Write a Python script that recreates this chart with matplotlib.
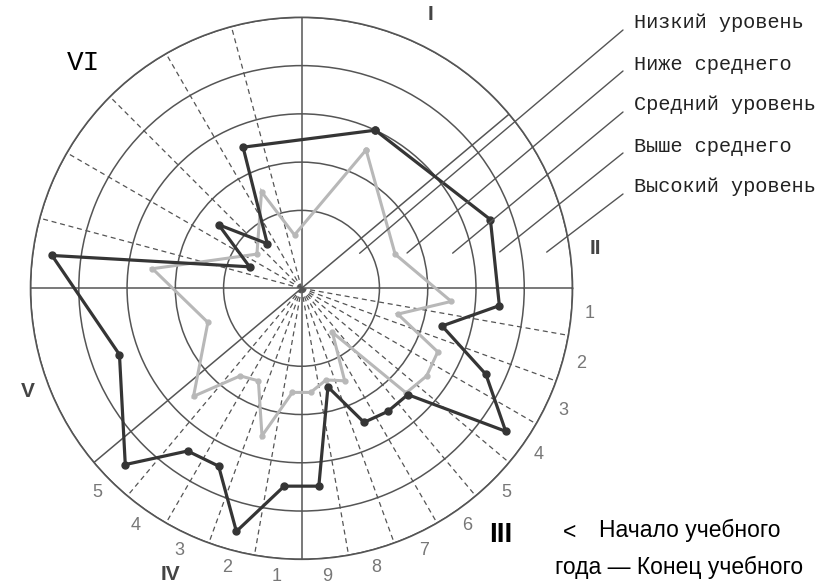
import numpy as np
import matplotlib.pyplot as plt
from matplotlib.patches import ConnectionPatch

# сектора диаграммы: название, начальный и конечный угол (град.), число делений
sector_names = ['I', 'II', 'III', 'IV', 'V', 'VI']
sector_start = [90, 40, 0, -90, -140, 180]
sector_end = [40, 0, -90, -140, -180, 90]
sector_parts = [1, 1, 9, 5, 1, 6]

# уровни (0.5 - низкий ... 4.5 - высокий), порядок: I, II, III-1..9, IV-1..5, V, VI-1..6
begin_year = [2.55, 1.45,
              2.5, 1.45, 2.5, 2.55, 2.45, 0.5, 1.5, 1.35, 1.55,
              1.55, 2.55, 1.5, 1.6, 2.55,
              1.45,
              2.5, np.nan, 0.55, np.nan, 1.55, 0.5]
end_year = [3.0, 3.55,
            3.5, 2.4, 3.6, 4.55, 2.5, 2.5, 2.45, 1.5, 3.5,
            3.5, 4.6, 3.45, 3.5, 4.55,
            3.4,
            4.6, 0.55, 1.55, 0.55, 2.55, np.nan]

level_names = ['Низкий уровень', 'Ниже среднего', 'Средний уровень',
               'Выше среднего', 'Высокий уровень']

# углы категорий и границы делений
theta = []
sub_lines = []
for a0, a1, n in zip(sector_start, sector_end, sector_parts):
    step = (a1 - a0) / n
    theta += [a0 + step * (i + 0.5) for i in range(n)]
    sub_lines += [a0 + step * i for i in range(1, n)]
theta = np.array(theta)

fig = plt.figure(figsize=(8.27, 5.84), dpi=100)
ax = fig.add_axes([0.0369, 0.0423, 0.6554, 0.928], projection='polar')
ax.set_facecolor('none')
ax.set_ylim(-0.615, 5)
ax.set_yticks([1, 2, 3, 4, 5])
ax.set_yticklabels([])
ax.set_xticks(np.deg2rad([0, 40, 90, 180, 220, 270]))
ax.set_xticklabels([])
ax.tick_params(length=0)
ax.grid(color='#555555', lw=1.1, ls='-')
ax.spines['polar'].set_color('#555555')
ax.spines['polar'].set_linewidth(1.2)

# пунктирные деления секторов
for a in sub_lines:
    ax.plot([np.deg2rad(a)] * 2, [-0.615, 5], color='#555555', lw=0.9,
            ls=(0, (4, 3)), zorder=1)

# номера делений в секторах III и IV
idx = 0
for name, n in zip(sector_names, sector_parts):
    if name in ('III', 'IV'):
        for i in range(n):
            ax.text(np.deg2rad(theta[idx + i]), 5.38, str(i + 1), ha='center',
                    va='center', fontsize=13, color='#777777',
                    family='Liberation Sans')
    idx += n


def draw_series(vals, color, lw, ms, z):
    v = np.array(vals, dtype=float)
    ok = ~np.isnan(v)
    t = np.deg2rad(theta[ok])
    r = v[ok]
    t = np.append(t, t[0])
    r = np.append(r, r[0])
    ax.plot(t, r, color=color, lw=lw, marker='o', ms=ms, zorder=z,
            solid_joinstyle='miter')


draw_series(begin_year, '#b8b8b8', 2.2, 3.5, 3)
draw_series(end_year, '#353535', 2.3, 5, 4)

# римские номера секторов
sans = ['Liberation Sans', 'DejaVu Sans']
ax.text(np.deg2rad(64.7), 5.66, 'I', ha='center', va='center', fontsize=15,
        fontweight='bold', color='#444444', family=sans)
ax.text(np.deg2rad(7.8), 5.53, 'II', ha='center', va='center', fontsize=15,
        fontweight='bold', color='#444444', family=sans)
ax.text(np.deg2rad(-51), 5.95, 'III', ha='center', va='center', fontsize=20,
        fontweight='bold', color='black', family=sans,
        bbox=dict(fc='white', ec='none', pad=2))
ax.text(np.deg2rad(-114.6), 5.91, 'IV', ha='center', va='center', fontsize=15,
        fontweight='bold', color='#444444', family=sans)
ax.text(np.deg2rad(200.7), 5.45, 'V', ha='center', va='center', fontsize=15,
        fontweight='bold', color='#444444', family=sans)
ax.text(np.deg2rad(134), 5.89, 'VI', ha='center', va='center', fontsize=20,
        color='black', family=['Liberation Mono', 'DejaVu Sans Mono'],
        bbox=dict(fc='white', ec='none', pad=4))

# подписи уровней с выносными линиями
lead_from = [(31.1, 0.79), (18.5, 1.69), (13.1, 2.6), (10.4, 3.56), (8.4, 4.52)]
for k, name in enumerate(level_names):
    yt = 584 - (23 + 41 * k)
    a, r = lead_from[k]
    con = ConnectionPatch(xyA=(np.deg2rad(a), r), coordsA=ax.transData,
                          xyB=(623, yt - 7), coordsB='figure pixels',
                          color='#555555', lw=1.0)
    fig.add_artist(con)
    fig.text(634 / 827, yt / 584, name, ha='left', va='center', fontsize=14.6,
             color='#222222', family=['Liberation Mono', 'DejaVu Sans Mono'])

fig.text(563 / 827, 1 - 532 / 584, '<', ha='left', va='center', fontsize=16.5,
         family=sans)
fig.text(599 / 827, 1 - 530 / 584, 'Начало учебного', ha='left', va='center',
         fontsize=16.5, family=sans)
fig.text(555 / 827, 1 - 567 / 584, 'года — Конец учебного', ha='left',
         va='center', fontsize=16.5, family=sans)

fig.savefig('out.png', dpi=100, facecolor='white')
